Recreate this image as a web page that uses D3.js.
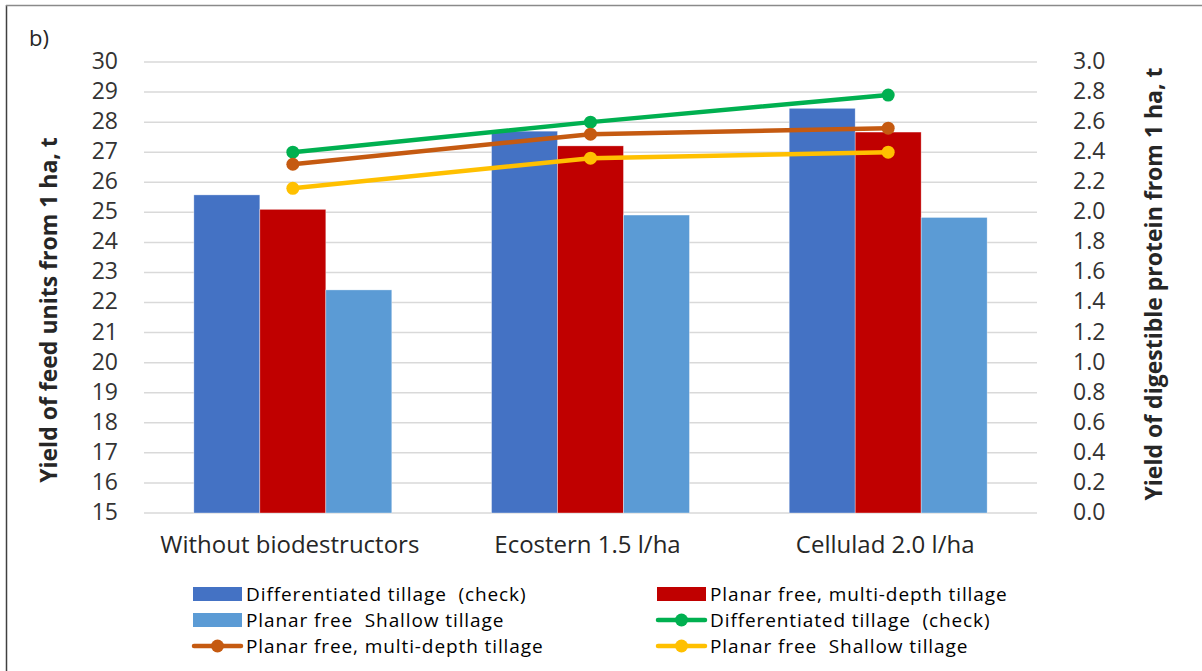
<!DOCTYPE html>
<html>
<head>
<meta charset="utf-8">
<script src="https://cdn.jsdelivr.net/npm/d3@7"></script>
<style>
  html, body { margin: 0; padding: 0; background: #fff; }
  svg { display: block; font-family: "Open Sans", "Noto Sans", sans-serif; }
  text { white-space: pre; }
</style>
</head>
<body>
<svg id="chart" width="1202" height="671"></svg>
<script>
// ---- data ----
const categories = ["Without biodestructors", "Ecostern 1.5 l/ha", "Cellulad 2.0 l/ha"];
const barSeriesNames = ["Differentiated tillage  (check)", "Planar free, multi-depth tillage", "Planar free  Shallow tillage"];
const feedDifferentiated = [25.58, 27.70, 28.46];
const feedMultiDepth = [25.10, 27.21, 27.67];
const feedShallow = [22.42, 24.91, 24.83];
const proteinDifferentiated = [2.40, 2.60, 2.78];
const proteinMultiDepth = [2.32, 2.52, 2.56];
const proteinShallow = [2.16, 2.36, 2.40];
const leftTicks = [15,16,17,18,19,20,21,22,23,24,25,26,27,28,29,30];
const rightTicks = [0.0,0.2,0.4,0.6,0.8,1.0,1.2,1.4,1.6,1.8,2.0,2.2,2.4,2.6,2.8,3.0];
const leftTitle = "Yield of feed units from 1 ha, t";
const rightTitle = "Yield of digestible protein from 1 ha, t";

// ---- styles ----
const barColors = ["#4472C4", "#C00000", "#5B9BD5"];
const lineColors = ["#00B050", "#C55A11", "#FFC000"];

const svg = d3.select("#chart");
const L = 144, R = 1037, T = 62, B = 513;

const yL = d3.scaleLinear().domain([15, 30]).range([B, T]);
const yR = d3.scaleLinear().domain([0, 3]).range([B, T]);
const x0 = d3.scaleBand().domain(categories).range([L, R]).paddingInner(0.335).paddingOuter(0.1675);
const x1 = d3.scaleBand().domain(d3.range(3)).range([0, x0.bandwidth()]).padding(0);

// frame
svg.append("line").attr("x1", 6.5).attr("x2", 6.5).attr("y1", 5).attr("y2", 671)
  .attr("stroke", "#404040").attr("stroke-width", 1.5);
svg.append("line").attr("x1", 6).attr("x2", 1202).attr("y1", 5.5).attr("y2", 5.5)
  .attr("stroke", "#8a8a8a").attr("stroke-width", 1.5);

// b)
svg.append("text").attr("x", 29).attr("y", 46).attr("font-size", 22).attr("fill", "#262626").text("b)");

// gridlines
svg.append("g").selectAll("line").data(leftTicks).join("line")
  .attr("x1", L).attr("x2", R)
  .attr("y1", d => yL(d)).attr("y2", d => yL(d))
  .attr("stroke", "#d9d9d9").attr("stroke-width", 1.5);

// axes
const axL = svg.append("g").attr("transform", `translate(${L},0)`)
  .call(d3.axisLeft(yL).tickValues(leftTicks).tickSize(0).tickPadding(26).tickFormat(d3.format("d")));
const axR = svg.append("g").attr("transform", `translate(${R},0)`)
  .call(d3.axisRight(yR).tickValues(rightTicks).tickSize(0).tickPadding(36).tickFormat(d3.format(".1f")));
[axL, axR].forEach(a => {
  a.select(".domain").remove();
  a.selectAll("text").attr("font-size", 23).attr("fill", "#333").attr("dy", "0.28em")
    .style("font-family", "'Open Sans', sans-serif");
});

// bars
const barData = [feedDifferentiated, feedMultiDepth, feedShallow];
const gBars = svg.append("g");
categories.forEach((c, ci) => {
  gBars.selectAll(null).data(barData.map((s, si) => ({ si, v: s[ci] }))).join("rect")
    .attr("x", d => x0(c) + x1(d.si))
    .attr("width", x1.bandwidth())
    .attr("y", d => yL(d.v))
    .attr("height", d => yL(15) - yL(d.v))
    .attr("fill", d => barColors[d.si])
    .attr("stroke", "#ffffff").attr("stroke-width", 0.6).attr("stroke-opacity", 0.6);
});

// category labels
svg.append("g").selectAll("text").data(categories).join("text")
  .attr("x", d => x0(d) + x0.bandwidth() / 2 - 3)
  .attr("y", 553)
  .attr("text-anchor", "middle")
  .attr("font-size", 24).attr("fill", "#262626")
  .text(d => d);

// lines
const lineData = [proteinDifferentiated, proteinMultiDepth, proteinShallow];
const lineGen = d3.line().x((d, i) => x0(categories[i]) + x0.bandwidth() / 2).y(d => yR(d));
lineData.forEach((s, si) => {
  svg.append("path").datum(s).attr("d", lineGen)
    .attr("fill", "none").attr("stroke", lineColors[si]).attr("stroke-width", 4.5)
    .attr("stroke-linejoin", "round").attr("stroke-linecap", "round");
  svg.append("g").selectAll("circle").data(s).join("circle")
    .attr("cx", (d, i) => x0(categories[i]) + x0.bandwidth() / 2)
    .attr("cy", d => yR(d))
    .attr("r", 6.5).attr("fill", lineColors[si]);
});

// axis titles
svg.append("text")
  .attr("transform", `translate(57,310) rotate(-90)`)
  .attr("text-anchor", "middle").attr("font-size", 23).attr("font-weight", "bold").attr("fill", "#262626")
  .text(leftTitle);
svg.append("text")
  .attr("transform", `translate(1162,284) rotate(-90)`)
  .attr("text-anchor", "middle").attr("font-size", 23).attr("font-weight", "bold").attr("fill", "#262626")
  .text(rightTitle);

// legend
const legendItems = [
  { type: "bar", color: barColors[0], label: barSeriesNames[0], col: 0, row: 0 },
  { type: "bar", color: barColors[1], label: barSeriesNames[1], col: 1, row: 0 },
  { type: "bar", color: barColors[2], label: barSeriesNames[2], col: 0, row: 1 },
  { type: "line", color: lineColors[0], label: barSeriesNames[0], col: 1, row: 1 },
  { type: "line", color: lineColors[1], label: barSeriesNames[1], col: 0, row: 2 },
  { type: "line", color: lineColors[2], label: barSeriesNames[2], col: 1, row: 2 },
];
const colX = [193, 657], rowY = [594, 620, 646];
const lg = svg.append("g");
legendItems.forEach(it => {
  const gx = colX[it.col], gy = rowY[it.row];
  const g = lg.append("g").attr("transform", `translate(${gx},${gy})`);
  if (it.type === "bar") {
    g.append("rect").attr("x", 0).attr("y", -7).attr("width", 49).attr("height", 14).attr("fill", it.color);
  } else {
    g.append("line").attr("x1", 1).attr("x2", 48).attr("y1", 0).attr("y2", 0)
      .attr("stroke", it.color).attr("stroke-width", 4.5).attr("stroke-linecap", "round");
    g.append("circle").attr("cx", 24.5).attr("cy", 0).attr("r", 6.5).attr("fill", it.color);
  }
  g.append("text").attr("x", 53).attr("y", 0).attr("dy", "0.35em")
    .attr("font-size", 19).attr("letter-spacing", "0.9px").attr("fill", "#000").text(it.label);
});
</script>
</body>
</html>
